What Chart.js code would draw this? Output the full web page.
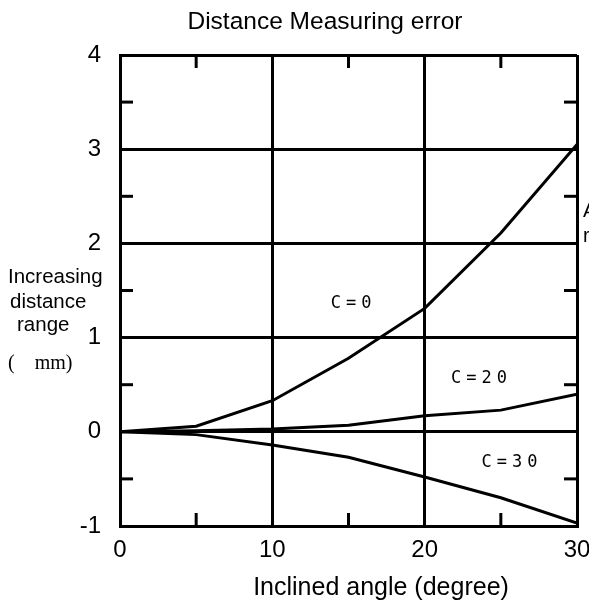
<!DOCTYPE html>
<html>
<head>
<meta charset="utf-8">
<script src="https://cdn.jsdelivr.net/npm/chart.js@4.4.1/dist/chart.umd.min.js"></script>
<style>
  html, body { margin: 0; padding: 0; background: #fff; }
  #wrap { width: 589px; height: 602px; }
</style>
</head>
<body>
<div id="wrap"><canvas id="c" width="589" height="602"></canvas></div>
<script>
// ---- data ----
const angles = [0, 5, 10, 15, 20, 25, 30];
const seriesC0 = [0, 0.06, 0.33, 0.78, 1.31, 2.11, 3.05];
const seriesC20 = [0, 0.01, 0.03, 0.07, 0.17, 0.23, 0.40];
const seriesC30 = [0, -0.03, -0.14, -0.27, -0.48, -0.70, -0.97];
const seriesNames = ['C=0', 'C=20', 'C=30'];
const xTickValues = [0, 10, 20, 30];
const yTickValues = [-1, 0, 1, 2, 3, 4];
const xMinorTicks = [5, 15, 25];
const yMinorTicks = [-0.5, 0.5, 1.5, 2.5, 3.5];
const titleText = 'Distance Measuring error';
const xTitleText = 'Inclined angle (degree)';
const yTitleLines = ['Increasing', 'distance', 'range', '(\u3000mm)'];
const rightCutTexts = ['A', 'r'];

function pts(ys) { return angles.map((a, i) => ({ x: a, y: ys[i] })); }

const lineStyle = { borderColor: '#000', borderWidth: 3, pointRadius: 0, tension: 0, fill: false };
const SANS = '"Liberation Sans", Arial, sans-serif';

const extrasPlugin = {
  id: 'extras',
  afterDraw(chart) {
    const ctx = chart.ctx;
    const xs = chart.scales.x, ys = chart.scales.y;
    const a = chart.chartArea;
    ctx.save();
    // inner minor ticks
    ctx.strokeStyle = '#000';
    ctx.lineWidth = 3;
    ctx.lineCap = 'butt';
    const L = 13;
    xMinorTicks.forEach(v => {
      const px = xs.getPixelForValue(v);
      ctx.beginPath(); ctx.moveTo(px, a.top); ctx.lineTo(px, a.top + L); ctx.stroke();
      ctx.beginPath(); ctx.moveTo(px, a.bottom); ctx.lineTo(px, a.bottom - L); ctx.stroke();
    });
    yMinorTicks.forEach(v => {
      const py = ys.getPixelForValue(v);
      ctx.beginPath(); ctx.moveTo(a.left, py); ctx.lineTo(a.left + L, py); ctx.stroke();
      ctx.beginPath(); ctx.moveTo(a.right, py); ctx.lineTo(a.right - L, py); ctx.stroke();
    });
    ctx.fillStyle = '#000';
    ctx.textBaseline = 'middle';
    // chart title
    ctx.textAlign = 'center';
    ctx.font = '24.5px ' + SANS;
    ctx.fillText(titleText, 325, 22);
    // x-axis title
    ctx.font = '25px ' + SANS;
    ctx.fillText(xTitleText, 381, 588);
    // y-axis title lines
    ctx.textAlign = 'left';
    ctx.font = '20.5px ' + SANS;
    ctx.fillText(yTitleLines[0], 8, 277);
    ctx.fillText(yTitleLines[1], 10, 302);
    ctx.fillText(yTitleLines[2], 17, 325);
    ctx.font = '20px "Liberation Serif", "Noto Sans CJK JP", serif';
    ctx.fillText(yTitleLines[3], 8, 364);
    // series labels
    ctx.font = '17px "DejaVu Sans Mono", monospace';
    ctx.textAlign = 'center';
    try { ctx.letterSpacing = '5px'; } catch (e) {}
    const labelPos = [[15.2, 1.36], [23.6, 0.57], [25.6, -0.33]];
    seriesNames.forEach((n, i) => {
      ctx.fillText(n, xs.getPixelForValue(labelPos[i][0]) + 2, ys.getPixelForValue(labelPos[i][1]));
    });
    try { ctx.letterSpacing = '0px'; } catch (e) {}
    // right-edge cut text
    ctx.textAlign = 'left';
    ctx.font = '20px ' + SANS;
    ctx.fillText(rightCutTexts[0], a.right + 6, 211);
    ctx.fillText(rightCutTexts[1], a.right + 6, 236);
    ctx.restore();
  }
};

new Chart(document.getElementById('c'), {
  type: 'line',
  data: {
    datasets: [
      Object.assign({ label: seriesNames[0], data: pts(seriesC0) }, lineStyle),
      Object.assign({ label: seriesNames[1], data: pts(seriesC20) }, lineStyle),
      Object.assign({ label: seriesNames[2], data: pts(seriesC30) }, lineStyle)
    ]
  },
  options: {
    responsive: false,
    animation: false,
    layout: { padding: { left: 0, right: 12, top: 55, bottom: 0 } },
    plugins: {
      legend: { display: false },
      tooltip: { enabled: false },
      title: { display: false }
    },
    scales: {
      x: {
        type: 'linear',
        min: 0, max: 30,
        afterBuildTicks(s) { s.ticks = xTickValues.map(v => ({ value: v })); },
        afterFit(s) { s.height = 76; s.paddingLeft = 0; s.paddingRight = 0; },
        ticks: {
          color: '#000',
          padding: 10,
          maxRotation: 0,
          font: { family: SANS, size: 24 },
          callback: v => String(v)
        },
        grid: { color: '#000', lineWidth: 3, drawTicks: false },
        border: { display: true, color: '#000', width: 3 }
      },
      y: {
        type: 'linear',
        min: -1, max: 4,
        afterBuildTicks(s) { s.ticks = yTickValues.map(v => ({ value: v })); },
        afterFit(s) { s.width = 120; s.paddingTop = 0; s.paddingBottom = 0; },
        ticks: {
          color: '#000',
          padding: 19,
          font: { family: SANS, size: 24 },
          callback: v => String(v)
        },
        grid: { color: '#000', lineWidth: 3, drawTicks: false },
        border: { display: true, color: '#000', width: 3 }
      }
    }
  },
  plugins: [extrasPlugin]
});
</script>
</body>
</html>
